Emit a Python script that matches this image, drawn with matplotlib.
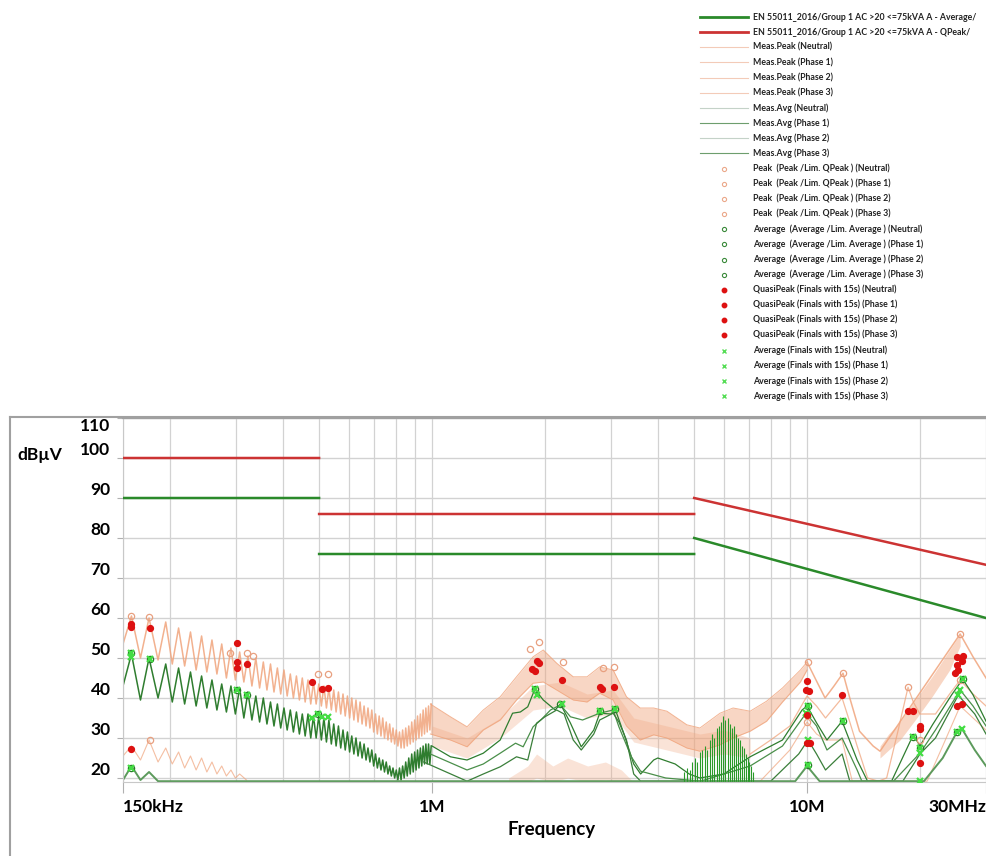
import numpy as np
import matplotlib
matplotlib.use("Agg")
import matplotlib.pyplot as plt
from matplotlib.lines import Line2D
from matplotlib.ticker import FixedLocator, NullFormatter

plt.rcParams['font.family'] = ['Lato', 'DejaVu Sans']

# ---- limits (EN 55011 Group 1, class A, >20 kVA), MHz / dBuV
lim_qp_f = [0.15, 0.5, np.nan, 0.5, 5.0, np.nan, 5.0, 30.0]
lim_qp_v = [100, 100, np.nan, 86, 86, np.nan, 90, 73.3]
lim_av_f = [0.15, 0.5, np.nan, 0.5, 5.0, np.nan, 5.0, 30.0]
lim_av_v = [90, 90, np.nan, 76, 76, np.nan, 80, 60]

# ---- low-frequency ripple of the measured traces (kHz)
rip_pk_f = [158, 176, 195, 211, 227, 243, 259, 275, 291, 307, 323, 339, 355, 371, 387, 403, 419, 435,
            451, 467, 483, 499, 515, 531, 547, 563, 579, 595, 611, 627, 643, 659, 675, 691, 707, 723,
            739, 755, 771, 787, 803, 819, 835, 851, 867, 883, 899, 915, 931, 947, 963, 979, 995]
rip_tr_f = [167, 186, 203, 219, 235, 251, 267, 283, 299, 315, 331, 347, 363, 379, 395, 411, 427, 443,
            459, 475, 491, 507, 523, 539, 555, 571, 587, 603, 619, 635, 651, 667, 683, 699, 715, 731,
            747, 763, 779, 795, 811, 827, 843, 859, 875, 891, 907, 923, 939, 955, 971, 987]
pk_top = [60.5, 60.0, 59.0, 57.5, 56.5, 55.5, 54.5, 53.5, 52.5, 51.5, 50.5, 50.0, 49.0, 48.5, 47.5, 47.0,
          46.0, 45.5, 45.0, 44.5, 44.0, 43.5, 43.0, 42.5, 42.0, 41.5, 41.0, 40.5, 40.0, 39.5, 39.0, 38.0,
          37.5, 37.0, 36.0, 35.5, 35.0, 34.0, 33.5, 32.5, 32.0, 31.5, 32.0, 32.5, 33.0, 34.0, 34.5, 35.5,
          36.0, 37.0, 37.5, 38.0, 38.5]
pk_bot = [50.0, 49.5, 48.5, 48.0, 47.0, 46.5, 46.0, 45.0, 44.5, 44.0, 43.0, 42.5, 42.0, 41.5, 41.0, 40.5,
          40.0, 39.5, 39.0, 38.5, 38.5, 38.0, 37.5, 37.0, 36.5, 36.0, 35.5, 35.0, 34.5, 34.0, 33.5, 33.0,
          32.5, 31.5, 31.0, 30.5, 30.0, 29.5, 29.0, 28.5, 28.0, 27.5, 27.5, 28.0, 28.5, 29.0, 29.5, 30.0,
          30.5, 31.0, 31.5, 32.0]
av_top = [51.0, 50.0, 48.5, 47.5, 46.5, 45.5, 44.5, 43.5, 43.0, 42.5, 41.5, 40.5, 40.0, 39.0, 38.5, 37.5,
          37.0, 36.5, 36.0, 36.0, 35.5, 35.5, 35.0, 34.5, 33.5, 33.0, 32.0, 31.5, 30.5, 30.0, 29.0, 28.5,
          27.5, 27.0, 26.0, 25.0, 24.5, 24.0, 23.0, 22.5, 22.0, 22.5, 23.0, 24.0, 25.0, 26.0, 26.5, 27.0,
          27.5, 28.0, 28.5, 28.5, 28.0]
av_bot = [39.5, 40.0, 39.0, 38.5, 38.0, 37.5, 37.0, 36.5, 36.0, 35.0, 34.5, 34.0, 33.5, 33.0, 32.5, 32.0,
          31.5, 31.0, 30.5, 30.0, 30.0, 29.5, 29.0, 28.5, 28.0, 27.5, 27.0, 26.5, 26.0, 25.5, 25.0, 24.5,
          24.0, 23.0, 22.5, 22.0, 21.5, 21.0, 20.5, 20.0, 19.5, 19.5, 20.0, 20.5, 21.0, 21.5, 22.0, 22.5,
          23.0, 23.5, 23.5, 23.5]

# neutral peak trace, low end (kHz)
pkn_f = [150, 158, 167, 176, 186, 195, 203, 211, 219, 227, 235, 243, 251, 259, 267, 275, 283, 291, 299, 307, 320]
pkn_v = [25.5, 28.0, 24.5, 29.5, 24.0, 27.5, 23.5, 26.5, 22.5, 25.5, 22.0, 25.0, 21.5, 24.0, 21.0, 23.0,
         20.5, 22.0, 20.0, 21.0, 19.5]

# ---- noisy peak bands above 1 MHz (MHz)
sa_f = [0.99, 1.12, 1.24, 1.37, 1.52, 1.68, 1.86, 1.98, 2.15, 2.38, 2.59, 2.8, 3.04, 3.3, 3.59, 3.9,
        4.23, 4.78, 5.18, 5.86, 6.35, 7.05, 7.8, 8.6, 9.6, 10.0]
sa_hi = [38.5, 35.3, 32.8, 37, 40.3, 45.3, 50.3, 52, 48.7, 45.3, 45.3, 47.8, 47, 40.3, 37.5, 37.5,
         36.7, 33.3, 32.5, 36.2, 37.5, 36.7, 39.2, 42.5, 47, 49]
sa_lo = [31, 29.5, 27.8, 32, 34.5, 39.5, 43.7, 44, 42, 39.5, 39, 41.2, 39.5, 33, 29.5, 30.8,
         30, 27.5, 26.7, 28.3, 30, 31.7, 34.2, 39, 44, 47]
sb_f = [1.0, 1.24, 1.52, 1.86, 2.2, 2.59, 3.04, 3.45, 4.23, 5.18, 6.0, 7.05]
sb_hi = [33, 30, 35, 43, 44, 41, 42, 35, 33, 31, 32, 30]
sb_lo = [28, 25, 30, 37, 38, 35, 36, 29, 27, 25, 26, 25]
sn_f = [1.6, 1.8, 1.9, 2.1, 2.3, 2.6, 2.9, 3.2, 3.4]
sn_hi = [20, 23, 26, 23, 25, 23, 24, 22, 19.5]
sn_lo = [19, 19, 20, 19, 20, 19, 19.5, 19, 19]
sh_f = [15.65, 16.5, 17.7, 19.6, 21.6, 24.0, 25.6]
sh_hi = [28, 31, 34, 40, 45.5, 52, 56]
sh_lo = [25, 27, 29.5, 35, 40.5, 47, 53]

# peak lines above 10 MHz
pa_f = [10.0, 10.5, 11.17, 11.8, 12.47, 13.0, 13.8, 15.0, 15.65, 25.6, 27.7, 30.0]
pa_v = [49, 45, 40, 43, 46.2, 40, 31.7, 28, 26.7, 56, 50.3, 45]
pb_f = [7.05, 8.0, 9.0, 10.0, 10.6, 11.2, 12.4, 13.0, 13.6, 14.5, 15.5, 16.3, 17.5, 18.59, 19.2, 20.0,
        22.0, 24.0, 25.6, 27.7, 30.0]
pb_v = [26, 29.5, 33, 40.5, 38, 35, 40, 34, 28, 20, 19.2, 20, 32, 42.7, 39, 36, 36, 41, 44.5, 41, 38]
pc_f = [7.5, 9.0, 10.0, 10.6, 11.2, 12.4, 13.2, 20.9, 23.0, 25.6, 30.0]
pc_v = [19.2, 27, 34, 31, 29.5, 29.5, 19.2, 19.2, 28, 38, 32]

# ---- average traces above 1 MHz (MHz)
g1_f = [1.0, 1.12, 1.24, 1.37, 1.52, 1.64, 1.72, 1.80, 1.88, 1.98, 2.13, 2.2, 2.34, 2.5, 2.7, 2.8, 3.0,
        3.08, 3.25, 3.45, 3.6, 3.9, 4.0, 4.45, 4.85, 5.18, 6.0, 7.05, 8.6, 9.7, 10.0, 10.6, 11.3, 12.4,
        13.6, 14.5, 16.8, 19.2, 20.0, 21.6, 24.3, 26.0, 27.7, 30.0]
g1_v = [28, 25.3, 24.5, 26.2, 29.5, 36.2, 36.5, 37.8, 42.2, 39.5, 37, 38.5, 33.7, 27.8, 32, 36.2, 36,
        37.2, 31, 23.5, 21, 24.5, 25, 23.5, 21, 20, 21, 25.3, 29.5, 37, 38, 33.8, 29.5, 34.2,
        24.5, 19.2, 19.2, 30.8, 28, 33.3, 40.8, 44.7, 40.8, 34.2]
g2_f = [0.99, 1.24, 1.37, 1.52, 1.67, 1.75, 1.86, 1.95, 2.07, 2.2, 2.34, 2.52, 2.8, 3.04, 3.15, 3.4, 3.6,
        4.2, 5.2, 7.05, 8.6, 9.94, 10.6, 11.3, 12.4, 13.6, 14.0, 17.0, 20.0, 22.0, 25.6, 27.7, 30.0]
g2_v = [26, 22, 23.5, 26.2, 28.7, 27.8, 32.8, 34.5, 37, 38.3, 35.3, 34.5, 36.2, 37, 32.8, 25.3, 21.7,
        20, 19.2, 23, 28, 36.2, 33, 27, 30, 22, 19.2, 19.2, 26.2, 32, 42, 38, 33]
g3_f = [0.95, 1.24, 1.37, 1.52, 1.68, 1.8, 1.9, 2.0, 2.15, 2.25, 2.38, 2.5, 2.7, 2.8, 3.04, 3.15, 3.3,
        3.45, 3.6, 8.0, 9.5, 10.06, 10.6, 11.2, 12.4, 13.0, 18.0, 20.0, 22.0, 25.3, 28.0, 30.0]
g3_v = [24, 19.2, 21, 22.8, 25.3, 24.5, 33.7, 35.3, 37, 36, 29.5, 27, 31, 34.5, 36.2, 34, 29.5,
        21, 19.2, 19.2, 26, 29.5, 26, 22, 26, 19.2, 19.2, 26, 30, 40.7, 36, 31]
g4_f = [0.15, 0.158, 0.167, 0.176, 0.186, 0.2, 9.3, 10.0, 10.8, 20.5, 23.0, 25.1, 26.0, 28.0, 30.0]
g4_v = [19.5, 23, 19.5, 21.5, 19.2, 19.2, 19.2, 23, 19.2, 19.2, 25, 31.5, 32, 27, 23]

# comb of spikes in the average trace, 4.7 - 7.2 MHz
comb_f = [4.70, 4.78, 4.86, 4.94, 5.02, 5.10, 5.18, 5.26, 5.34, 5.42, 5.50, 5.58, 5.66, 5.74, 5.82, 5.90,
          5.98, 6.06, 6.14, 6.22, 6.30, 6.38, 6.46, 6.54, 6.62, 6.70, 6.78, 6.86, 6.94, 7.02, 7.10, 7.18]
comb_v = [21.5, 22.5, 22, 24, 25, 24, 26.5, 27, 28, 27, 29.5, 31, 30, 32.5, 33, 34, 35.5, 34.5, 35, 33.5,
          32.5, 33, 31, 30, 29.5, 28, 27.5, 26, 25, 24, 23, 21.5]

# ---- final markers (MHz, dBuV)
qp_f = [0.158, 0.158, 0.177, 0.158, 0.302, 0.302, 0.302, 0.321, 0.479, 0.509, 0.528, 1.848, 1.883, 1.905,
        1.929, 2.222, 2.805, 2.84, 3.058, 10.0, 9.94, 10.12, 10.0, 10.0, 10.19, 12.4, 18.59, 19.17, 20.0,
        20.0, 20.0, 25.1, 26.06, 25.9, 25.1, 25.3, 24.8, 25.1, 25.9]
qp_v = [58.5, 57.7, 57.5, 27.2, 53.7, 49, 47.5, 48.5, 44, 42.2, 42.5, 47.2, 46.8, 49.3, 48.8, 44.5, 42.7,
        42.2, 42.7, 44.3, 42, 41.8, 35.7, 28.7, 28.7, 40.7, 36.7, 36.7, 33, 32.2, 23.7, 50.3, 50.5, 49.3,
        48.2, 47, 46.2, 38, 38.5]
pkm_f = [0.158, 0.176, 0.289, 0.321, 0.333, 0.497, 0.528, 0.177, 1.825, 1.929, 2.236, 2.858, 3.058,
         10.06, 12.47, 18.59, 25.6, 10.0, 20.0, 25.6]
pkm_v = [60.5, 60.2, 51.2, 51.2, 50.5, 46, 46, 29.5, 52.2, 54, 49, 47.5, 47.7, 49, 46.2, 42.7, 56, 34,
         29.5, 44.5]
avm_f = [0.158, 0.177, 0.158, 0.302, 0.321, 0.497, 1.883, 2.194, 2.805, 3.076, 10.06, 12.47, 19.17, 20.0,
         26.06, 25.1, 10.06]
avm_v = [51.2, 49.7, 22.5, 42, 40.7, 36, 42.2, 38.5, 36.7, 37.2, 38, 34.2, 30.2, 27.5, 44.7, 31.5, 23.2]
avf_f = [0.158, 0.158, 0.177, 0.158, 0.302, 0.321, 0.479, 0.497, 0.509, 0.528, 1.883, 1.905, 2.222, 2.805,
         3.076, 10.06, 9.94, 10.06, 10.06, 10.06, 12.47, 19.17, 20.0, 20.0, 20.0, 26.06, 25.6, 25.3, 25.1,
         25.9]
avf_v = [51.2, 50.3, 49.7, 22.5, 42, 40.7, 35, 36, 35.3, 35.3, 42.2, 40.7, 38.5, 36.7, 37.2, 38, 36.2,
         35.7, 29.5, 23.2, 34.2, 30.2, 27.5, 26.2, 19.2, 44.7, 42, 40.7, 31.5, 32.2]

grid_f = [0.2, 0.3, 0.4, 0.5, 0.6, 0.7, 0.8, 0.9, 2, 3, 4, 5, 6, 7, 8, 9, 20]

legend_rows = [
    ("EN 55011_2016/Group 1 AC >20 <=75kVA A - Average/", 'line', '#2a8a2a', 2.0),
    ("EN 55011_2016/Group 1 AC >20 <=75kVA A - QPeak/", 'line', '#cc3333', 2.0),
    ("Meas.Peak (Neutral)", 'line', '#f3cbb8', 0.8),
    ("Meas.Peak (Phase 1)", 'line', '#f3cbb8', 0.8),
    ("Meas.Peak (Phase 2)", 'line', '#f3cbb8', 0.8),
    ("Meas.Peak (Phase 3)", 'line', '#f3cbb8', 0.8),
    ("Meas.Avg (Neutral)", 'line', '#c4d2c8', 0.8),
    ("Meas.Avg (Phase 1)", 'line', '#6d9e6d', 0.8),
    ("Meas.Avg (Phase 2)", 'line', '#c4d2c8', 0.8),
    ("Meas.Avg (Phase 3)", 'line', '#6d9e6d', 0.8),
    ("Peak  (Peak /Lim. QPeak ) (Neutral)", 'pk', None, None),
    ("Peak  (Peak /Lim. QPeak ) (Phase 1)", 'pk', None, None),
    ("Peak  (Peak /Lim. QPeak ) (Phase 2)", 'pk', None, None),
    ("Peak  (Peak /Lim. QPeak ) (Phase 3)", 'pk', None, None),
    ("Average  (Average /Lim. Average ) (Neutral)", 'av', None, None),
    ("Average  (Average /Lim. Average ) (Phase 1)", 'av', None, None),
    ("Average  (Average /Lim. Average ) (Phase 2)", 'av', None, None),
    ("Average  (Average /Lim. Average ) (Phase 3)", 'av', None, None),
    ("QuasiPeak (Finals with 15s) (Neutral)", 'qp', None, None),
    ("QuasiPeak (Finals with 15s) (Phase 1)", 'qp', None, None),
    ("QuasiPeak (Finals with 15s) (Phase 2)", 'qp', None, None),
    ("QuasiPeak (Finals with 15s) (Phase 3)", 'qp', None, None),
    ("Average (Finals with 15s) (Neutral)", 'af', None, None),
    ("Average (Finals with 15s) (Phase 1)", 'af', None, None),
    ("Average (Finals with 15s) (Phase 2)", 'af', None, None),
    ("Average (Finals with 15s) (Phase 3)", 'af', None, None),
]

SALMON = '#f0a47c'
DKGREEN = '#2f7d2f'
W, H = 986, 856


def fx(x):
    return x / W


def fy(y):
    return 1 - y / H


def zigzag(first_f, first_v, pk_f, pk_v, tr_f, tr_v):
    # interleave the read peak / trough points, kHz -> MHz
    f, v = [first_f / 1000], [first_v]
    for i in range(len(pk_f)):
        f.append(pk_f[i] / 1000)
        v.append(pk_v[i])
        if i < len(tr_f):
            f.append(tr_f[i] / 1000)
            v.append(tr_v[i])
    return f, v


fig = plt.figure(figsize=(W / 100, H / 100), dpi=100)
ax = fig.add_axes([fx(123), fy(782), fx(986) - fx(123), fy(418) - fy(782)])
ax.set_xscale('log')
ax.set_xlim(0.15, 30)
ax.set_ylim(19, 110)

# grid
ax.set_xticks([0.15, 1, 10, 30])
ax.set_xticklabels(['150kHz', '1M', '10M', '30MHz'])
ax.xaxis.set_minor_locator(FixedLocator(grid_f))
ax.xaxis.set_minor_formatter(NullFormatter())
ax.set_yticks(range(20, 111, 10))
ax.grid(which='both', axis='x', color='#d2d2d2', lw=0.9, zorder=0)
ax.grid(which='major', axis='y', color='#d2d2d2', lw=1.0, zorder=0)
ax.set_axisbelow(True)

# limits
ax.plot(lim_av_f, lim_av_v, color='#2a8a2a', lw=1.8, zorder=3)
ax.plot(lim_qp_f, lim_qp_v, color='#cc3333', lw=1.8, zorder=3)

# peak traces
f, v = zigzag(150, 53.5, rip_pk_f, pk_top, rip_tr_f, pk_bot)
ax.plot(f, v, color=SALMON, lw=1.1, alpha=0.85, zorder=2)
ax.plot(np.array(pkn_f) / 1000, pkn_v, color=SALMON, lw=0.8, alpha=0.7, zorder=2)
ax.fill_between(sa_f, sa_lo, sa_hi, color=SALMON, alpha=0.45, lw=0, zorder=2)
ax.plot(sa_f, sa_hi, color=SALMON, lw=0.7, alpha=0.8, zorder=2)
ax.plot(sa_f, sa_lo, color=SALMON, lw=0.7, alpha=0.8, zorder=2)
ax.fill_between(sb_f, sb_lo, sb_hi, color=SALMON, alpha=0.3, lw=0, zorder=2)
ax.fill_between(sn_f, sn_lo, sn_hi, color=SALMON, alpha=0.3, lw=0, zorder=2)
ax.fill_between(sh_f, sh_lo, sh_hi, color=SALMON, alpha=0.45, lw=0, zorder=2)
ax.plot(pa_f, pa_v, color=SALMON, lw=1.1, alpha=0.85, zorder=2)
ax.plot(pb_f, pb_v, color=SALMON, lw=0.9, alpha=0.75, zorder=2)
ax.plot(pc_f, pc_v, color=SALMON, lw=0.8, alpha=0.7, zorder=2)

# average traces
f, v = zigzag(150, 43.0, rip_pk_f, av_top, rip_tr_f, av_bot)
ax.plot(f, v, color=DKGREEN, lw=1.1, zorder=2.5)
ax.plot(g1_f, g1_v, color=DKGREEN, lw=0.9, zorder=2.5)
ax.plot(g2_f, g2_v, color='#4a8f4a', lw=0.9, zorder=2.5)
ax.plot(g3_f, g3_v, color='#3a7f3a', lw=0.9, zorder=2.5)
ax.plot(g4_f, g4_v, color='#5c9a5c', lw=1.4, zorder=2.5)
ax.vlines(comb_f, 19, comb_v, color='#2a9a2a', lw=0.8, zorder=2.5)

# finals
ax.plot(pkm_f, pkm_v, ls='none', marker='o', ms=4.5, mfc='none', mec='#e8a080', mew=0.9, zorder=4)
ax.plot(avm_f, avm_v, ls='none', marker='o', ms=4.5, mfc='none', mec='#2a7a2a', mew=0.9, zorder=4)
ax.plot(avf_f, avf_v, ls='none', marker='x', ms=4.5, color='#44dd44', mew=1.6, zorder=5)
ax.plot(qp_f, qp_v, ls='none', marker='o', ms=4.2, color='#dd1111', mec='#dd1111', zorder=5)

# axes styling
ax.spines['right'].set_visible(False)
ax.spines['top'].set_color('#a0a0a0')
ax.spines['top'].set_linewidth(1.6)
ax.spines['left'].set_color('#c8c8c8')
ax.spines['bottom'].set_color('#c8c8c8')
ax.tick_params(axis='x', which='major', length=8, color='#b0b0b0', pad=4, labelsize=12.5)
ax.tick_params(axis='x', which='minor', length=0)
ax.tick_params(axis='y', length=4, color='#b0b0b0', pad=5, labelsize=12.5)
for lab in ax.get_xticklabels() + ax.get_yticklabels():
    lab.set_fontweight('bold')
xl = ax.get_xticklabels()
xl[0].set_ha('left')
xl[-1].set_ha('right')
for lab in ax.get_yticklabels():
    lab.set_va('bottom')
ax.get_yticklabels()[-1].set_va('top')

fig.text(fx(17), fy(455), 'dB\u00b5V', fontsize=12.5, fontweight='bold', va='center', ha='left')
fig.text(fx(552), fy(830), 'Frequency', fontsize=13.5, fontweight='bold', va='center', ha='center')

# outer frame of the plot panel
fig.add_artist(Line2D([fx(10), fx(10)], [0, fy(417)], transform=fig.transFigure, color='#a0a0a0', lw=1.5))
fig.add_artist(Line2D([fx(10), 1], [fy(417), fy(417)], transform=fig.transFigure, color='#a0a0a0', lw=1.5))

# legend
for i, (label, kind, col, lw) in enumerate(legend_rows):
    y = fy(17 + i * 15.16)
    if kind == 'line':
        fig.add_artist(Line2D([fx(700), fx(748)], [y, y], transform=fig.transFigure, color=col, lw=lw))
    elif kind == 'pk':
        fig.add_artist(Line2D([fx(724)], [y], transform=fig.transFigure, ls='none', marker='o', ms=3,
                              mfc='none', mec='#eba88a', mew=0.8))
    elif kind == 'av':
        fig.add_artist(Line2D([fx(724)], [y], transform=fig.transFigure, ls='none', marker='o', ms=3,
                              mfc='none', mec='#3a8a3a', mew=0.8))
    elif kind == 'qp':
        fig.add_artist(Line2D([fx(724)], [y], transform=fig.transFigure, ls='none', marker='o', ms=3.2,
                              color='#dd1111'))
    else:
        fig.add_artist(Line2D([fx(724)], [y], transform=fig.transFigure, ls='none', marker='x', ms=3.2,
                              color='#55dd55', mew=1.0))
    fig.text(fx(753), y, label, fontsize=6.3, fontweight='bold', color='#222222', va='center', ha='left')

fig.savefig('out.png', dpi=100)
